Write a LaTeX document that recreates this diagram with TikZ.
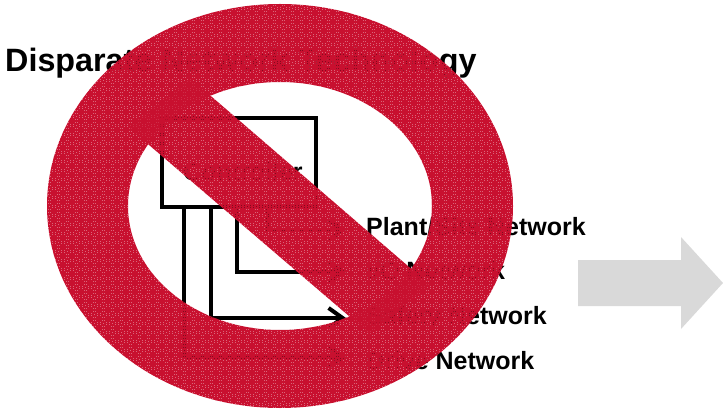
\documentclass[tikz,border=0pt]{standalone}
\usepackage{fontspec}
\setmainfont{Liberation Sans}
\usepackage{xcolor}
\usetikzlibrary{arrows.meta,positioning,patterns}
\definecolor{signred}{HTML}{C8102F}
\definecolor{arrowgray}{HTML}{D9D9D9}
% red stencil with small holes, the background shows through them
\pgfdeclarepatternformonly{signdither}{\pgfqpoint{-.1pt}{-.1pt}}{\pgfqpoint{9.1pt}{9.1pt}}{\pgfqpoint{9pt}{9pt}}{
  \pgfseteorule
  \pgfpathrectangle{\pgfqpoint{-.1pt}{-.1pt}}{\pgfqpoint{9.2pt}{9.2pt}}
  \foreach \hx/\hy in {3/1,5/1,1/3,7/3,1/5,7/5,3/7,5/7,4/4}{
    \pgfpathrectangle{\pgfpoint{\hx pt}{\hy pt}}{\pgfqpoint{.8pt}{.8pt}}
  }
  \pgfusepath{fill}
}
\tikzset{
  netlabel/.style={inner sep=0pt,anchor=base west,font=\fontsize{25}{25}\selectfont\bfseries},
  ctrlbox/.style={rectangle,draw=black,line width=3.5pt,fill=white,minimum width=154pt,minimum height=89pt},
  link/.style={-{Straight Barb[length=14pt,width=20pt]},line width=4pt,draw=black},
  sign/.style={pattern=signdither,pattern color=signred}
}
\begin{document}
\begin{tikzpicture}[x=1pt,y=-1pt]
\useasboundingbox (0,0) rectangle (723,409);
\node[netlabel,font=\fontsize{32.3}{32}\selectfont\bfseries] (title) at (5,72) {Disparate Network Technology};
\node[ctrlbox] (ctrl) at (239,162.5) {};
\node[netlabel] (ctrltext) at (183,180) {Controller};
\node[netlabel] (plant) at (366,235) {Plant/Site Network};
\node[netlabel] (io) at (366,279) {I/O Network};
\node[netlabel] (safety) at (366,324) {Safety Network};
\node[netlabel] (drive) at (366,369) {Drive Network};
\coordinate (plantend) at (346,230);
\coordinate (ioend) at (346,272);
\coordinate (safetyend) at (346,318);
\coordinate (driveend) at (346,357);
\draw[link] (ctrl.south -| 268,0) |- (plantend);
\draw[link] (ctrl.south -| 237,0) |- (ioend);
\draw[link] (ctrl.south -| 211,0) |- (safetyend);
\draw[link] (ctrl.south -| 184,0) |- (driveend);
\fill[arrowgray] (578,260) -- (681,260) -- (681,237) -- (723,283) -- (681,329) -- (681,306) -- (578,306) -- cycle;
% the sign goes over everything else
\path[sign,even odd rule] (280,206) ellipse [x radius=233,y radius=202]
  (280,206) ellipse [x radius=152,y radius=124];
\path[sign] (190,78) -- (430,285) -- (370,334) -- (128,127) -- cycle;
\end{tikzpicture}
\end{document}
